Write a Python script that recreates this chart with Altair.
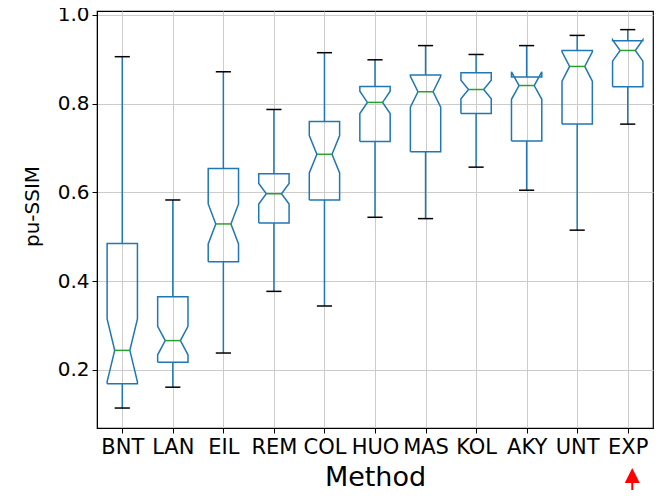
import altair as alt
import pandas as pd

# ---- data ----
methods = ["BNT", "LAN", "EIL", "REM", "COL", "HUO", "MAS", "KOL", "AKY", "UNT", "EXP"]
whisker_low = [0.114, 0.161, 0.238, 0.377, 0.344, 0.544, 0.541, 0.657, 0.605, 0.515, 0.754]
q1 = [0.169, 0.217, 0.444, 0.531, 0.583, 0.715, 0.692, 0.778, 0.716, 0.754, 0.838]
median = [0.244, 0.266, 0.529, 0.597, 0.686, 0.803, 0.827, 0.832, 0.841, 0.884, 0.920]
q3 = [0.485, 0.365, 0.654, 0.642, 0.760, 0.839, 0.865, 0.870, 0.860, 0.920, 0.942]
whisker_high = [0.906, 0.583, 0.872, 0.787, 0.915, 0.899, 0.931, 0.911, 0.931, 0.954, 0.967]
notch_half = [0.071, 0.032, 0.045, 0.023, 0.042, 0.025, 0.035, 0.021, 0.031, 0.033, 0.024]
highlight = "EXP"

# ---- geometry (style) ----
BOX_HW = 0.30     # half box width (x units)
NOTCH_HW = 0.15   # half width at the median
CAP_HW = 0.15
BLUE = "#1f77b4"
GREEN = "#2ca02c"
FONT = "DejaVu Sans"

outline_rows, whisk_rows, cap_rows, med_rows = [], [], [], []
for i, m in enumerate(methods):
    p = i + 1
    lo, hi = median[i] - notch_half[i], median[i] + notch_half[i]
    pts = [
        (p - BOX_HW, q1[i]), (p - BOX_HW, lo), (p - NOTCH_HW, median[i]),
        (p - BOX_HW, hi), (p - BOX_HW, q3[i]), (p + BOX_HW, q3[i]),
        (p + BOX_HW, hi), (p + NOTCH_HW, median[i]), (p + BOX_HW, lo),
        (p + BOX_HW, q1[i]), (p - BOX_HW, q1[i]),
    ]
    for k, (x, y) in enumerate(pts):
        outline_rows.append({"method": m, "order": k, "x": x, "y": y})
    whisk_rows.append({"method": m, "x": p, "y": q3[i], "y2": whisker_high[i]})
    whisk_rows.append({"method": m, "x": p, "y": q1[i], "y2": whisker_low[i]})
    cap_rows.append({"method": m, "x": p - CAP_HW, "x2": p + CAP_HW, "y": whisker_high[i]})
    cap_rows.append({"method": m, "x": p - CAP_HW, "x2": p + CAP_HW, "y": whisker_low[i]})
    med_rows.append({"method": m, "x": p - NOTCH_HW, "x2": p + NOTCH_HW, "y": median[i]})

outline = pd.DataFrame(outline_rows)
whisk = pd.DataFrame(whisk_rows)
caps = pd.DataFrame(cap_rows)
meds = pd.DataFrame(med_rows)

hp = methods.index(highlight) + 1
arrow_head = pd.DataFrame({"x": [hp + 0.09], "y": [-0.038]})
arrow_shaft = pd.DataFrame({"x": [hp + 0.09], "y": [-0.05], "y2": [-0.12]})

label_expr = "[" + ",".join("'%s'" % m for m in methods) + "][datum.value - 1]"

xscale = alt.Scale(domain=[0.5, len(methods) + 0.5], nice=False, zero=False)
yscale = alt.Scale(domain=[0.069, 1.009], nice=False, zero=False)

xaxis = alt.Axis(values=list(range(1, len(methods) + 1)), labelExpr=label_expr,
                 title="Method", grid=True, labelAngle=0)
yaxis = alt.Axis(values=[0.2, 0.4, 0.6, 0.8, 1.0], format=".1f", title="pu-SSIM",
                 grid=True, titleY=195)

X = alt.X("x:Q", scale=xscale, axis=xaxis)
Y = alt.Y("y:Q", scale=yscale, axis=yaxis)

box = alt.Chart(outline).mark_line(color=BLUE, strokeWidth=1.5, strokeJoin="miter").encode(
    x=X, y=Y, detail="method:N", order="order:Q")

whiskers = alt.Chart(whisk).mark_rule(color=BLUE, strokeWidth=1.5).encode(
    x=alt.X("x:Q", scale=xscale), y=alt.Y("y:Q", scale=yscale), y2="y2:Q")

capsl = alt.Chart(caps).mark_rule(color="black", strokeWidth=1.5).encode(
    x=alt.X("x:Q", scale=xscale), x2="x2:Q", y=alt.Y("y:Q", scale=yscale))

medl = alt.Chart(meds).mark_rule(color=GREEN, strokeWidth=1.5).encode(
    x=alt.X("x:Q", scale=xscale), x2="x2:Q", y=alt.Y("y:Q", scale=yscale))

head = alt.Chart(arrow_head).mark_point(
    shape="M-1,1L0,-1L1,1Z", filled=True, color="red", opacity=1, size=225, clip=False
).encode(x=alt.X("x:Q", scale=xscale), y=alt.Y("y:Q", scale=yscale))

shaft = alt.Chart(arrow_shaft).mark_rule(color="red", strokeWidth=2, clip=False).encode(
    x=alt.X("x:Q", scale=xscale), y=alt.Y("y:Q", scale=yscale), y2="y2:Q")

chart = alt.layer(box, whiskers, capsl, medl, shaft, head).properties(
    width=556, height=417,
    autosize=alt.AutoSizeParams(type="none"),
    padding={"left": 89, "top": 3, "right": 1, "bottom": 62},
).configure_view(stroke="black", strokeWidth=1.2).configure_axis(
    labelFont=FONT, titleFont=FONT, labelColor="black", titleColor="black",
    labelFontSize=20, titleFontSize=20, titleFontWeight="normal",
    domainColor="black", tickColor="black", tickSize=5, tickWidth=1,
    gridColor="#cccccc", gridWidth=1, labelPadding=3,
).configure_axisX(
    labelFontSize=21, titleFontSize=27, titlePadding=7, labelPadding=3,
).configure_axisY(
    titlePadding=15, labelPadding=3,
)

chart.save("out.html", embed_options={"renderer": "svg", "actions": False})
